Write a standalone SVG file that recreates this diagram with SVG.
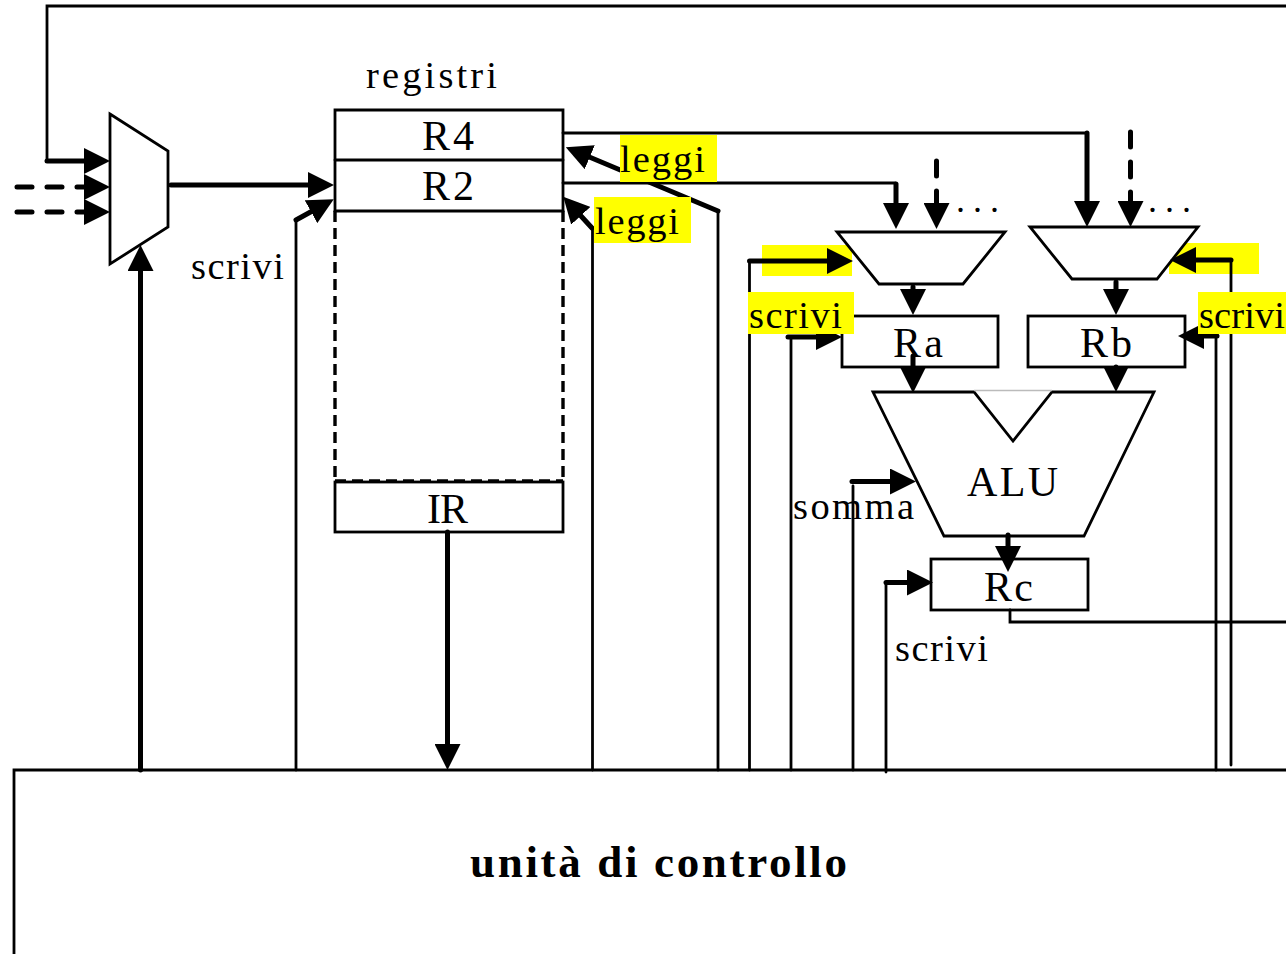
<svg xmlns="http://www.w3.org/2000/svg" width="1286" height="954" viewBox="0 0 1286 954">
<style>
text{font-family:"Liberation Serif","Times New Roman",serif;fill:#000}
.n{font-size:42px}
.l{font-size:38.500px}
.b{font-size:45px;font-weight:bold}
.s{fill:#fff;stroke:#000;stroke-width:2.800;stroke-linejoin:miter}
.t{fill:none;stroke:#000;stroke-width:2.800;stroke-linecap:round;stroke-linejoin:miter}
.k{fill:none;stroke:#000;stroke-width:5;stroke-linecap:round;stroke-linejoin:miter;marker-end:url(#a)}
.d{stroke-dasharray:15 15}
.y{fill:#ffff00}
</style>
<defs>
<marker id="a" markerUnits="userSpaceOnUse" markerWidth="26" markerHeight="26" viewBox="0 0 26 26" refX="16" refY="13" orient="auto"><polygon points="0,0 26,13 0,26"/></marker>
</defs>
<rect width="1286" height="954" fill="#fff"/>
<rect class="y" x="762" y="245" width="90" height="31"/>
<rect class="y" x="1169" y="243" width="90" height="31"/>
<g id="mux-in"><polygon class="s" points="110,114 168,151 168,227 110,264"/></g>
<g id="registri">
<text class="l" x="366" y="88" textLength="131">registri</text>
<path class="t" d="M335,211V110H563V211"/>
<path class="t" d="M335,160H563M335,211H563"/>
<path class="t" style="stroke-dasharray:11 6;stroke-linecap:butt;stroke-width:3.400" d="M335,211V482M563,211V482M335,481H563"/>
</g>
<g id="r4"><text class="n" x="422" y="149.500" textLength="52">R4</text></g>
<g id="r2"><text class="n" x="422" y="199.500" textLength="52">R2</text></g>
<g id="ir"><rect class="s" x="335" y="482" width="228" height="50"/><text class="n" x="427" y="522.500" textLength="41">IR</text></g>
<g id="mux-a"><polygon class="s" points="837,232 1005,232 963,284 879,284"/></g>
<g id="mux-b"><polygon class="s" points="1030,227 1198,227 1157,279 1072,279"/></g>
<g id="ra"><rect class="s" x="842" y="316" width="156" height="51"/><text class="n" x="893" y="356.500" textLength="50">Ra</text></g>
<g id="rb"><rect class="s" x="1028" y="316" width="157" height="51"/><text class="n" x="1080" y="356.500" textLength="52">Rb</text></g>
<g id="alu"><path class="s" d="M873,392H974L1013,441L1052,392H1154L1084,536H944Z"/><path d="M974,390.500H1052" stroke="#bbb" stroke-width="1.500"/><text class="n" x="967" y="495.500" textLength="91">ALU</text></g>
<g id="rc"><rect class="s" x="931" y="559" width="157" height="51"/><text class="n" x="984" y="600.500" textLength="49">Rc</text></g>
<g id="unita"><path class="t" style="stroke-linecap:butt" d="M14,954V770H1286"/><text class="b" x="470" y="877" textLength="377">unità di controllo</text></g>
<g id="connectors">
<path class="t" d="M47,161V6H1286"/>
<path class="k" d="M47,161H100"/>
<path class="k d" d="M17,187H100"/>
<path class="k d" d="M17,212H100"/>
<path class="k" d="M171,185H324"/>
<path class="k" d="M140.500,770V255"/>
<path class="t" d="M296,770V220"/>
<path class="k" d="M296,220L325,204"/>
<path class="k" d="M447.500,532V760"/>
<path class="t" d="M563,133H1087"/>
<path class="k" d="M1087,133V217"/>
<path class="t" d="M563,183H895"/>
<path class="k" d="M896,184V219"/>
<path class="k d" d="M936.500,161V219"/>
<path class="k d" d="M1130.500,132V217"/>
<path class="t" d="M718,770V211"/>
<path class="k" d="M718,211L575,151"/>
<path class="t" d="M592.500,770V228"/>
<path class="k" d="M592,228L570,204"/>
<path class="t" d="M749.500,770V261"/>
<path class="k" d="M749.500,261H843"/>
<path class="t" d="M791,770V337"/>
<path class="k" d="M788,337H832"/>
<path class="k" d="M913,287V305"/>
<path class="k" d="M913,356V383"/>
<path class="k" d="M1116,282V305"/>
<path class="k" d="M1116,367V382"/>
<path class="k" d="M1008,535V562"/>
<path class="t" d="M853,770V486"/>
<path class="k" d="M852,481.500H906"/>
<path class="t" d="M886,772V583"/>
<path class="k" d="M886,582.500H923"/>
<path class="t" d="M1010,610V622H1286"/>
<path class="t" d="M1231,765V260"/>
<path class="k" d="M1231,260H1180"/>
<path class="t" d="M1216,770V336"/>
<path class="k" d="M1217,336H1188"/>
</g>
<g id="labels">
<text x="956" y="212" style="font-size:36px;letter-spacing:8px">...</text>
<text x="1148" y="212" style="font-size:36px;letter-spacing:8px">...</text>
<text class="l" x="191" y="279" textLength="93">scrivi</text>
<rect class="y" x="620" y="135" width="97" height="47"/>
<text class="l" x="620" y="171.500" textLength="85">leggi</text>
<rect class="y" x="594" y="197" width="97" height="46"/>
<text class="l" x="595" y="233.500" textLength="84">leggi</text>
<rect class="y" x="748" y="292" width="106" height="42"/>
<text class="l" x="749" y="327.500" textLength="93">scrivi</text>
<rect class="y" x="1198" y="292" width="88" height="42"/>
<text class="l" x="1199" y="327.500" textLength="86">scrivi</text>
<text class="l" x="793" y="519" textLength="121">somma</text>
<text class="l" x="895" y="661" textLength="93">scrivi</text>
</g>
</svg>
